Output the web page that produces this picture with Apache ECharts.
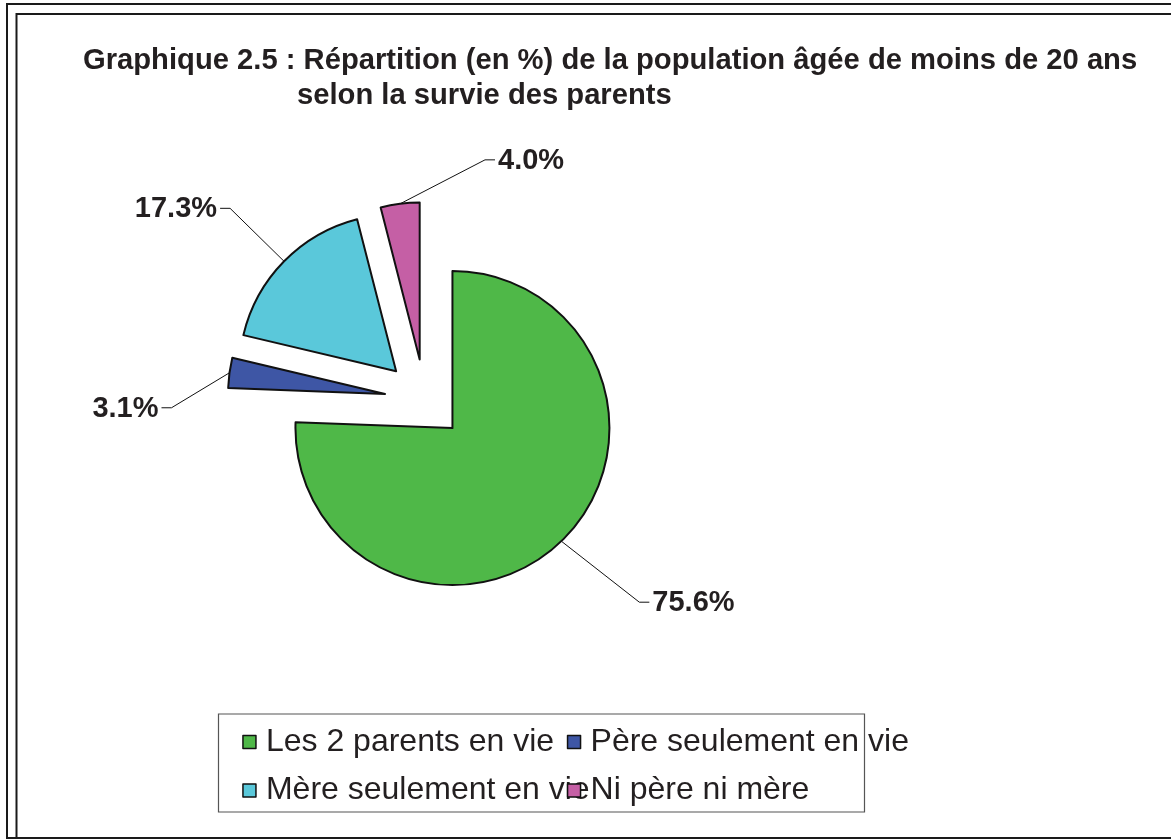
<!DOCTYPE html>
<html>
<head>
<meta charset="utf-8">
<script src="https://cdn.jsdelivr.net/npm/echarts@6/dist/echarts.min.js"></script>
<style>
  html, body { margin: 0; padding: 0; background: #fff; }
  #chart { width: 1171px; height: 840px; }
</style>
</head>
<body>
<div id="chart"></div>
<script>
// ---- Data ----
const categories = ['Les 2 parents en vie', 'Père seulement en vie', 'Mère seulement en vie', 'Ni père ni mère'];
const values = [75.6, 3.1, 17.3, 4.0];
const titleLine1 = 'Graphique 2.5 : Répartition (en %) de la population âgée de moins de 20 ans';
const titleLine2 = 'selon la survie des parents';

// ---- Styles ----
const colors = ['#4FB848', '#3E56A5', '#5AC8DA', '#C55FA5'];
const FONT = '"Liberation Sans", Arial, Helvetica, sans-serif';
const TXT = '#231F20';
const CENTER = [424.7, 399.3];
const RADIUS = 157;
const EXPLODE = 40;
// leader line first-segment vectors (layout styling of the labels)
const leaderVec = [[78, 61], [-58, 35], [-54, -53], [85, -44]];

const total = values.reduce((a, b) => a + b, 0);
let cum = 0;
const mids = values.map(v => { const m = 90 - 360 * (cum + v / 2) / total; cum += v; return m; });

const series = values.map((v, i) => {
  const a = mids[i] * Math.PI / 180;
  return {
    type: 'pie',
    silent: true,
    animation: false,
    avoidLabelOverlap: false,
    center: [CENTER[0] + EXPLODE * Math.cos(a), CENTER[1] - EXPLODE * Math.sin(a)],
    radius: RADIUS,
    startAngle: 90,
    clockwise: true,
    emphasis: { disabled: true },
    data: categories.map((name, j) => j === i ? {
      name: name, value: values[j],
      itemStyle: { color: colors[j], borderColor: '#111', borderWidth: 2 },
      label: {
        show: true, position: 'outside',
        formatter: p => p.value.toFixed(1) + '%',
        fontFamily: FONT, fontWeight: 'bold', fontSize: 29, color: TXT
      },
      labelLine: { show: true, length: 20, length2: 10, lineStyle: { color: '#111', width: 1 } }
    } : {
      name: name, value: values[j],
      itemStyle: { color: 'rgba(0,0,0,0)', borderWidth: 0 },
      label: { show: false }, labelLine: { show: false }
    }),
    labelLayout: function (params) {
      if (params.dataIndex !== i || !params.labelLinePoints) return {};
      const p0 = params.labelLinePoints[0];
      const vec = leaderVec[i];
      const knee = [p0[0] + vec[0], p0[1] + vec[1]];
      const dir = vec[0] >= 0 ? 1 : -1;
      const end = [knee[0] + dir * 10, knee[1]];
      return {
        x: end[0] + dir * 3,
        y: end[1] + 1,
        align: dir > 0 ? 'left' : 'right',
        verticalAlign: 'middle',
        labelLinePoints: [p0, knee, end]
      };
    }
  };
});

const legendCommon = {
  orient: 'vertical',
  padding: 0,
  itemGap: 12.5,
  itemWidth: 13,
  itemHeight: 13,
  icon: 'rect',
  selectedMode: false,
  textStyle: { fontFamily: FONT, fontSize: 32, color: TXT, lineHeight: 36, padding: [0, 0, 0, 5] }
};
function legendItem(k) {
  return { name: categories[k], itemStyle: { color: colors[k], borderColor: '#111', borderWidth: 1.5 } };
}

const option = {
  backgroundColor: '#ffffff',
  animation: false,
  title: [
    { text: titleLine1, left: 83, top: 46, padding: 0,
      textStyle: { fontFamily: FONT, fontWeight: 'bold', fontSize: 29.2, color: TXT } },
    { text: titleLine2, left: 297, top: 81, padding: 0,
      textStyle: { fontFamily: FONT, fontWeight: 'bold', fontSize: 29.2, color: TXT } }
  ],
  legend: [
    Object.assign({}, legendCommon, { left: 242.2, top: 724, data: [legendItem(0), legendItem(2)] }),
    Object.assign({}, legendCommon, { left: 566.8, top: 724, data: [legendItem(1), legendItem(3)] })
  ],
  graphic: [
    { type: 'rect', z: -1, shape: { x: 7, y: 4, width: 1200, height: 834 },
      style: { fill: 'none', stroke: '#1a1a1a', lineWidth: 2 } },
    { type: 'rect', z: -1, shape: { x: 16.5, y: 14, width: 1200, height: 824 },
      style: { fill: 'none', stroke: '#1a1a1a', lineWidth: 2 } },
    { type: 'rect', z: -1, shape: { x: 218.5, y: 714, width: 646, height: 98 },
      style: { fill: 'none', stroke: '#555', lineWidth: 1.2 } }
  ],
  series: series
};

const chart = echarts.init(document.getElementById('chart'), null, { renderer: 'canvas' });
chart.setOption(option);
</script>
</body>
</html>
